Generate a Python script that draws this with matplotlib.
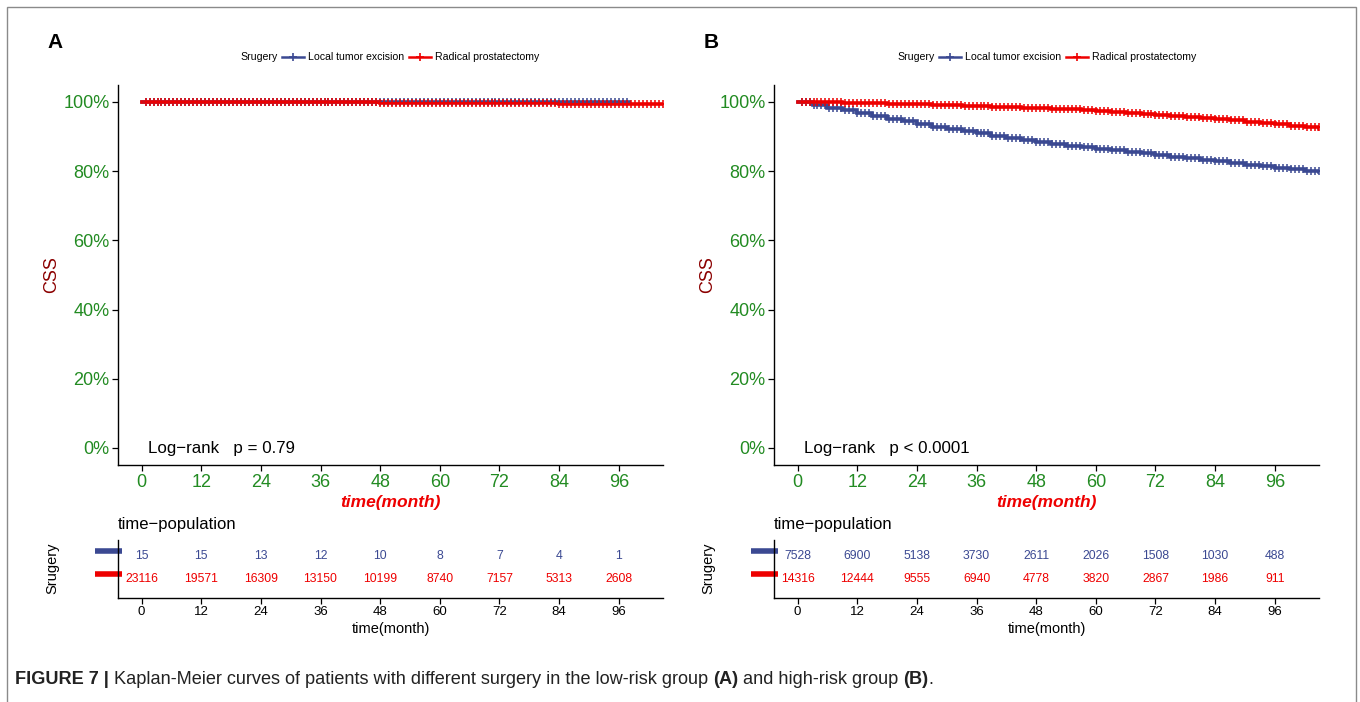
import numpy as np
import matplotlib
matplotlib.use("Agg")
import matplotlib.pyplot as plt
from matplotlib.lines import Line2D
from matplotlib.patches import Rectangle
from matplotlib.offsetbox import TextArea, DrawingArea, HPacker, AnchoredOffsetbox
import matplotlib.transforms as mtransforms

plt.rcParams["font.family"] = ["Liberation Sans", "DejaVu Sans"]

# ---------------------------------------------------------------- data
groups = ["Local tumor excision", "Radical prostatectomy"]
legend_title = "Srugery"
risk_times = [0, 12, 24, 36, 48, 60, 72, 84, 96]
y_ticks = [0, 20, 40, 60, 80, 100]

# Panel A: low-risk group (CSS, %)
a_local_t = [0, 98]
a_local_s = [100.0, 100.0]
a_radical_t = [0, 12, 24, 36, 48, 60, 72, 84, 96, 105]
a_radical_s = [100.0, 100.0, 99.95, 99.9, 99.85, 99.8, 99.7, 99.55, 99.4, 99.3]
a_risk_local = [15, 15, 13, 12, 10, 8, 7, 4, 1]
a_risk_radical = [23116, 19571, 16309, 13150, 10199, 8740, 7157, 5313, 2608]
a_pvalue = "p = 0.79"

# Panel B: high-risk group (CSS, %)
b_times = [0, 3, 6, 9, 12, 15, 18, 21, 24, 27, 30, 33, 36, 39, 42, 45, 48, 51,
           54, 57, 60, 63, 66, 69, 72, 75, 78, 81, 84, 87, 90, 93, 96, 99, 102, 105]
b_local_s = [100.0, 99.2, 98.4, 97.6, 96.9, 96.0, 95.2, 94.4, 93.6, 92.9, 92.2,
             91.6, 91.0, 90.3, 89.6, 89.0, 88.4, 87.9, 87.4, 86.9, 86.4, 86.0,
             85.6, 85.2, 84.8, 84.2, 83.7, 83.3, 82.9, 82.3, 81.8, 81.4, 81.0,
             80.5, 80.2, 79.8]
b_radical_s = [100.0, 100.0, 99.9, 99.8, 99.7, 99.6, 99.5, 99.4, 99.3, 99.1, 99.0,
               98.9, 98.8, 98.6, 98.5, 98.4, 98.3, 98.1, 97.9, 97.7, 97.5, 97.2,
               96.9, 96.5, 96.2, 95.9, 95.6, 95.3, 95.0, 94.7, 94.3, 94.0, 93.6,
               93.2, 92.8, 92.3]
b_risk_local = [7528, 6900, 5138, 3730, 2611, 2026, 1508, 1030, 488]
b_risk_radical = [14316, 12444, 9555, 6940, 4778, 3820, 2867, 1986, 911]
b_pvalue = "p < 0.0001"

# ---------------------------------------------------------------- style
BLUE = "#3B4992"
RED = "#EE0000"
GREEN = "#228B22"
DARKRED = "#8B0000"
CENSOR_GAP = 0.8      # months between drawn censoring marks
XLIM = (-4.75, 104.9)

W, H = 1360, 702
fig = plt.figure(figsize=(W / 100, H / 100), dpi=100)


def px_rect(left, top, right, bottom):
    return [left / W, 1 - bottom / H, (right - left) / W, (bottom - top) / H]


def km_curve(ax, t, s, color, t_end):
    t = np.asarray(t, float)
    s = np.asarray(s, float)
    ax.step(t, s, where="post", color=color, lw=2.6, solid_joinstyle="miter",
            zorder=3, clip_on=True)
    ct = np.arange(CENSOR_GAP, t_end, CENSOR_GAP)
    cs = s[np.searchsorted(t, ct, side="right") - 1]
    ax.plot(ct, cs, ls="none", marker="+", ms=6, mew=1.1, color=color,
            zorder=4, clip_on=True)


def draw_panel(x0, letter, curves, risks, pval):
    left, right = x0, x0 + 545
    ax = fig.add_axes(px_rect(left, 84.7, right, 465.3))
    for (t, s, col, tend) in curves:
        km_curve(ax, t, s, col, tend)
    ax.set_xlim(*XLIM)
    ax.set_ylim(-5, 105)
    ax.set_xticks(risk_times)
    ax.set_yticks(y_ticks)
    ax.set_yticklabels([f"{v}%" for v in y_ticks])
    ax.tick_params(axis="both", colors="black", labelcolor=GREEN,
                   labelsize=13, length=4, width=0.9, direction="out", pad=2)
    for side in ("top", "right"):
        ax.spines[side].set_visible(False)
    for side in ("left", "bottom"):
        ax.spines[side].set_linewidth(1.0)
    ax.set_xlabel("time(month)", color=RED, fontsize=12.5, fontweight="bold",
                  fontstyle="italic")
    ax.xaxis.set_label_coords(0.5, -30 / 380.6)
    ax.set_ylabel("CSS", color=DARKRED, fontsize=13)
    ax.yaxis.set_label_coords(-58 / 545, 0.5)
    ax.text(1.2, 0, "Log\u2212rank   " + pval, ha="left", va="center",
            fontsize=12.2, color="black")

    # number at risk table
    rt = fig.add_axes(px_rect(left, 540, right, 598))
    rt.set_xlim(*XLIM)
    rt.set_ylim(0.17, 2.70)
    rows = [(2, risks[0], BLUE), (1, risks[1], RED)]
    for (yrow, vals, col) in rows:
        for t, v in zip(risk_times, vals):
            rt.text(t, yrow, str(v), ha="center", va="center", fontsize=8.8,
                    color=col)
        rt.add_line(Line2D([-0.042, 0.008], [yrow + 0.22, yrow + 0.22],
                           transform=mtransforms.blended_transform_factory(
                               rt.transAxes, rt.transData),
                           color=col, lw=4, solid_capstyle="butt",
                           clip_on=False))
    rt.set_xticks(risk_times)
    rt.set_yticks([])
    rt.tick_params(axis="x", labelsize=9.5, length=4, width=0.9, pad=2)
    for side in ("top", "right"):
        rt.spines[side].set_visible(False)
    for side in ("left", "bottom"):
        rt.spines[side].set_linewidth(1.0)
    rt.set_xlabel("time(month)", fontsize=10.5)
    rt.xaxis.set_label_coords(0.5, -24 / 58)
    rt.set_ylabel("Srugery", fontsize=10.5)
    rt.yaxis.set_label_coords(-59 / 545, 0.52)
    rt.text(0, (598 - 525) / 58, "time\u2212population", transform=rt.transAxes,
            ha="left", va="center", fontsize=12)

    # panel letter
    fig.text((x0 - 63) / W, 1 - 42 / H, letter, ha="center", va="center",
             fontsize=15, fontweight="bold")
    return ax


def legend_box(cx, cy):
    items = [TextArea(legend_title, textprops=dict(fontsize=7.6))]
    for name, col in zip(groups, (BLUE, RED)):
        da = DrawingArea(16, 8, 0, 0)
        da.add_artist(Line2D([0, 16], [4, 4], color=col, lw=1.8))
        da.add_artist(Line2D([8], [4], color=col, marker="+", ms=6, mew=1.2))
        items.append(da)
        items.append(TextArea(name, textprops=dict(fontsize=7.6)))
    box = HPacker(children=items, align="center", pad=0, sep=3)
    anch = AnchoredOffsetbox(loc="center", child=box, pad=0, frameon=False,
                             bbox_to_anchor=(cx / W, 1 - cy / H),
                             bbox_transform=fig.transFigure, borderpad=0)
    fig.add_artist(anch)


draw_panel(118, "A",
           [(a_local_t, a_local_s, BLUE, 98), (a_radical_t, a_radical_s, RED, 105)],
           (a_risk_local, a_risk_radical), a_pvalue)
draw_panel(774, "B",
           [(b_times, b_local_s, BLUE, 105), (b_times, b_radical_s, RED, 105)],
           (b_risk_local, b_risk_radical), b_pvalue)
legend_box(390, 57)
legend_box(1047, 57)

# caption with bold parts
cap_parts = [("FIGURE 7 |", "bold"),
             (" Kaplan-Meier curves of patients with different surgery in the low-risk group ", "normal"),
             ("(A)", "bold"), (" and high-risk group ", "normal"), ("(B)", "bold"), (".", "normal")]
cap_box = HPacker(children=[TextArea(s, textprops=dict(fontsize=13.1, fontweight=w,
                                                       color="#222222"))
                            for s, w in cap_parts],
                  align="baseline", pad=0, sep=0)
fig.add_artist(AnchoredOffsetbox(loc="center left", child=cap_box, pad=0,
                                 frameon=False, borderpad=0,
                                 bbox_to_anchor=(15 / W, 1 - 680 / H),
                                 bbox_transform=fig.transFigure))

# outer frame
fig.add_artist(Rectangle((7 / W, -0.05), (1356 - 7) / W, (1 - 7 / H) + 0.05,
                         transform=fig.transFigure, fill=False,
                         edgecolor="#8a8a8a", lw=1.0))

fig.savefig("out.png", dpi=100)
